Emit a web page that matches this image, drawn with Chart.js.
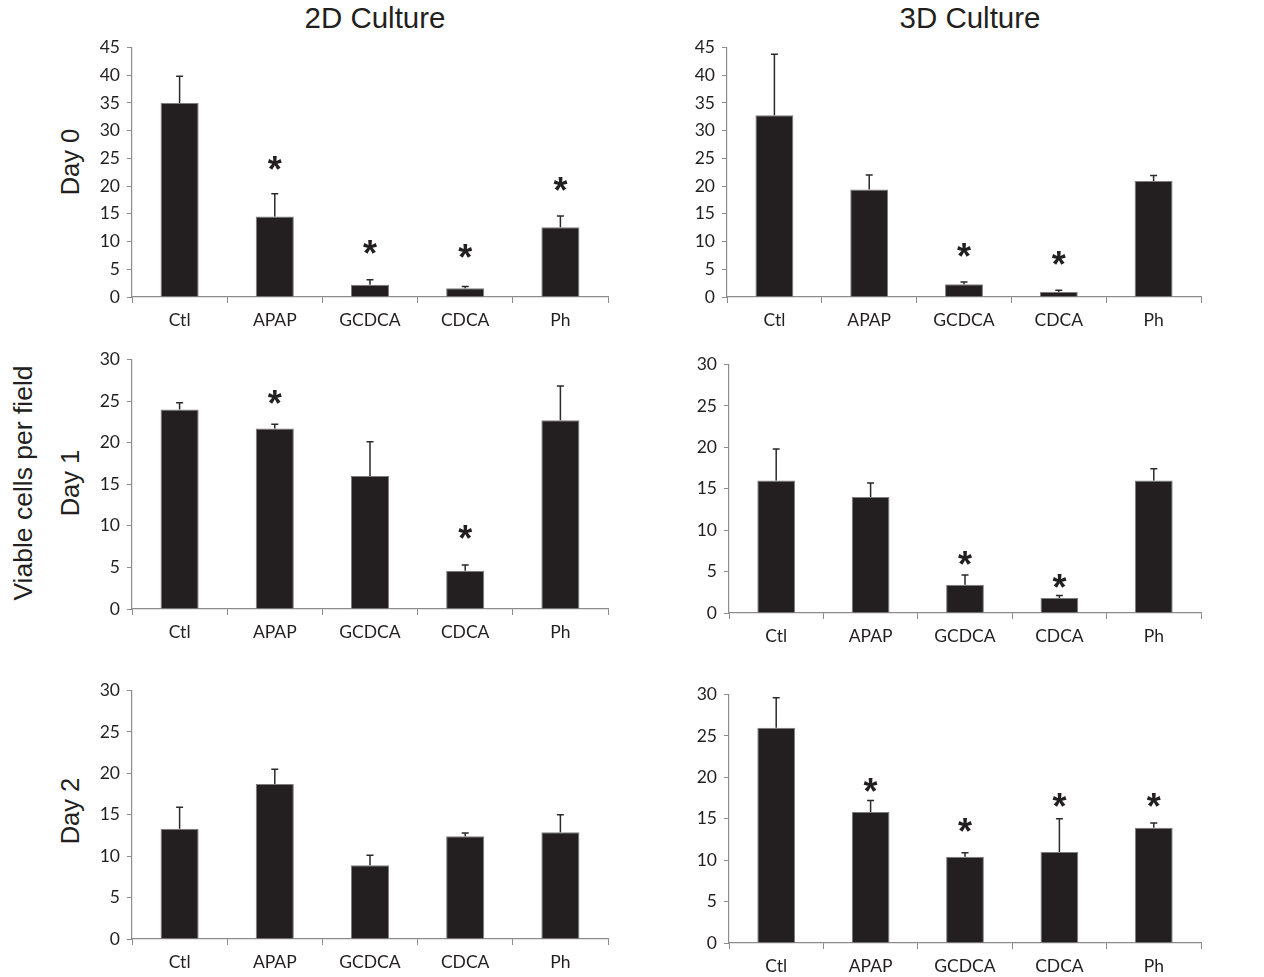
<!DOCTYPE html>
<html>
<head>
<meta charset="utf-8">
<script src="https://cdn.jsdelivr.net/npm/chart.js@4/dist/chart.umd.min.js"></script>
<style>
  html, body { margin: 0; padding: 0; background: #fff; }
  #fig { position: relative; width: 1264px; height: 977px; overflow: hidden; }
  #fig canvas { position: absolute; }
  .lbl { position: absolute; font-family: "Liberation Sans", Arial, sans-serif; color: #231f20; white-space: nowrap; }
  .rot { transform: translate(-50%, -50%) rotate(-90deg); }
  .ctr { transform: translate(-50%, -50%); }
</style>
</head>
<body>
<div id="fig">
  <div class="lbl ctr" style="left:375px; top:18px; font-size:29.5px;">2D Culture</div>
  <div class="lbl ctr" style="left:970px; top:18px; font-size:29.5px;">3D Culture</div>
  <div class="lbl rot" style="left:23px; top:483px; font-size:26.5px;">Viable cells per field</div>
  <div class="lbl rot" style="left:70px; top:162px; font-size:25.5px;">Day 0</div>
  <div class="lbl rot" style="left:70px; top:483px; font-size:25.5px;">Day 1</div>
  <div class="lbl rot" style="left:70px; top:811px; font-size:25.5px;">Day 2</div>
</div>
<script>
// groups on the x axis
const categories = ['Ctl', 'APAP', 'GCDCA', 'CDCA', 'Ph'];

// mean viable cells per field, SD (upper bar only), and where the * sits (null = none)
const day0_2D      = [35.0, 14.5, 2.2, 1.6, 12.6];
const day0_2D_sd   = [4.8, 4.1, 0.9, 0.3, 2.0];
const day0_2D_star = [null, 24.4, 9.1, 8.4, 20.6];

const day0_3D      = [32.8, 19.4, 2.3, 0.9, 20.9];
const day0_3D_sd   = [11.0, 2.6, 0.4, 0.3, 1.0];
const day0_3D_star = [null, null, 8.7, 7.1, null];

const day1_2D      = [24.0, 21.7, 16.0, 4.6, 22.7];
const day1_2D_sd   = [0.8, 0.5, 4.1, 0.7, 4.1];
const day1_2D_star = [null, 25.6, null, 9.3, null];

const day1_3D      = [16.0, 14.0, 3.4, 1.8, 16.0];
const day1_3D_sd   = [3.8, 1.7, 1.2, 0.3, 1.4];
const day1_3D_star = [null, null, 6.7, 4.0, null];

const day2_2D      = [13.3, 18.7, 8.9, 12.4, 12.9];
const day2_2D_sd   = [2.6, 1.8, 1.2, 0.4, 2.1];
const day2_2D_star = [null, null, null, null, null];

const day2_3D      = [26.0, 15.8, 10.4, 11.0, 13.9];
const day2_3D_sd   = [3.6, 1.4, 0.5, 4.0, 0.6];
const day2_3D_star = [null, 19.2, 14.4, 17.3, 17.4];

const yMaxDay0 = 45;
const yMaxLater = 30;

const INK = '#231f20';
const AXIS = '#8c8c8c';
const TICK_FONT = { family: 'Lato, "Open Sans", sans-serif', size: 17.5 };
const STAR_PX = 36;

// y-axis width, top pad, right pad and x-axis height around each chart area
const PAD_L = 52, PAD_T = 14, PAD_R = 14, PAD_B = 42;

// upward SD whiskers plus the significance stars, placed via the scales
const errorStars = {
    id: 'errorStars',
    afterDatasetsDraw(chart, args, opts) {
        const { ctx, scales: { x, y } } = chart;
        ctx.save();
        ctx.strokeStyle = '#2a2a2a';
        ctx.lineWidth = 1.5;
        opts.means.forEach((m, i) => {
            const cx = x.getPixelForValue(i);
            const y0 = y.getPixelForValue(m);
            const y1 = y.getPixelForValue(m + opts.sd[i]);
            ctx.beginPath();
            ctx.moveTo(cx, y0);
            ctx.lineTo(cx, y1);
            ctx.moveTo(cx - 3.5, y1);
            ctx.lineTo(cx + 3.5, y1);
            ctx.stroke();
        });
        ctx.fillStyle = INK;
        ctx.font = `bold ${STAR_PX}px "Liberation Sans", Arial, sans-serif`;
        ctx.textAlign = 'center';
        ctx.textBaseline = 'alphabetic';
        opts.stars.forEach((s, i) => {
            if (s == null) return;
            ctx.fillText('*', x.getPixelForValue(i), y.getPixelForValue(s) + STAR_PX * 0.55);
        });
        ctx.restore();
    },
};

function panel(box, means, sd, stars, yMax) {
    const cv = document.createElement('canvas');
    const w = box.right - box.left + PAD_L + PAD_R;
    const h = box.bottom - box.top + PAD_T + PAD_B;
    cv.width = w;
    cv.height = h;
    cv.style.left = (box.left - PAD_L) + 'px';
    cv.style.top = (box.top - PAD_T) + 'px';
    document.getElementById('fig').appendChild(cv);

    new Chart(cv, {
        type: 'bar',
        data: {
            labels: categories,
            datasets: [{
                data: means,
                backgroundColor: INK,
                borderColor: '#7d7d7d',
                borderWidth: 1,
                barPercentage: 0.4,
                categoryPercentage: 1.0,
            }],
        },
        options: {
            responsive: false,
            animation: false,
            events: [],
            layout: { padding: { top: PAD_T, right: PAD_R, left: 0, bottom: 0 } },
            plugins: {
                legend: { display: false },
                tooltip: { enabled: false },
                errorStars: { means, sd, stars },
            },
            scales: {
                x: {
                    afterFit: (s) => { s.height = PAD_B; },
                    border: { color: AXIS, width: 1.2 },
                    grid: { offset: true, drawOnChartArea: false, tickLength: 6, color: AXIS },
                    ticks: { color: INK, font: TICK_FONT, padding: 7 },
                },
                y: {
                    min: 0,
                    max: yMax,
                    afterFit: (s) => { s.width = PAD_L; },
                    border: { color: AXIS, width: 1.2 },
                    grid: { drawOnChartArea: false, tickLength: 5, color: AXIS },
                    ticks: { stepSize: 5, color: INK, font: TICK_FONT, padding: 7 },
                },
            },
        },
        plugins: [errorStars],
    });
}

panel({ left: 132, top: 44,  right: 608,  bottom: 297 }, day0_2D, day0_2D_sd, day0_2D_star, yMaxDay0);
panel({ left: 727, top: 44,  right: 1201, bottom: 297 }, day0_3D, day0_3D_sd, day0_3D_star, yMaxDay0);
panel({ left: 132, top: 356, right: 608,  bottom: 609 }, day1_2D, day1_2D_sd, day1_2D_star, yMaxLater);
panel({ left: 729, top: 361, right: 1201, bottom: 613 }, day1_3D, day1_3D_sd, day1_3D_star, yMaxLater);
panel({ left: 132, top: 687, right: 608,  bottom: 939 }, day2_2D, day2_2D_sd, day2_2D_star, yMaxLater);
panel({ left: 729, top: 691, right: 1201, bottom: 943 }, day2_3D, day2_3D_sd, day2_3D_star, yMaxLater);
</script>
</body>
</html>
